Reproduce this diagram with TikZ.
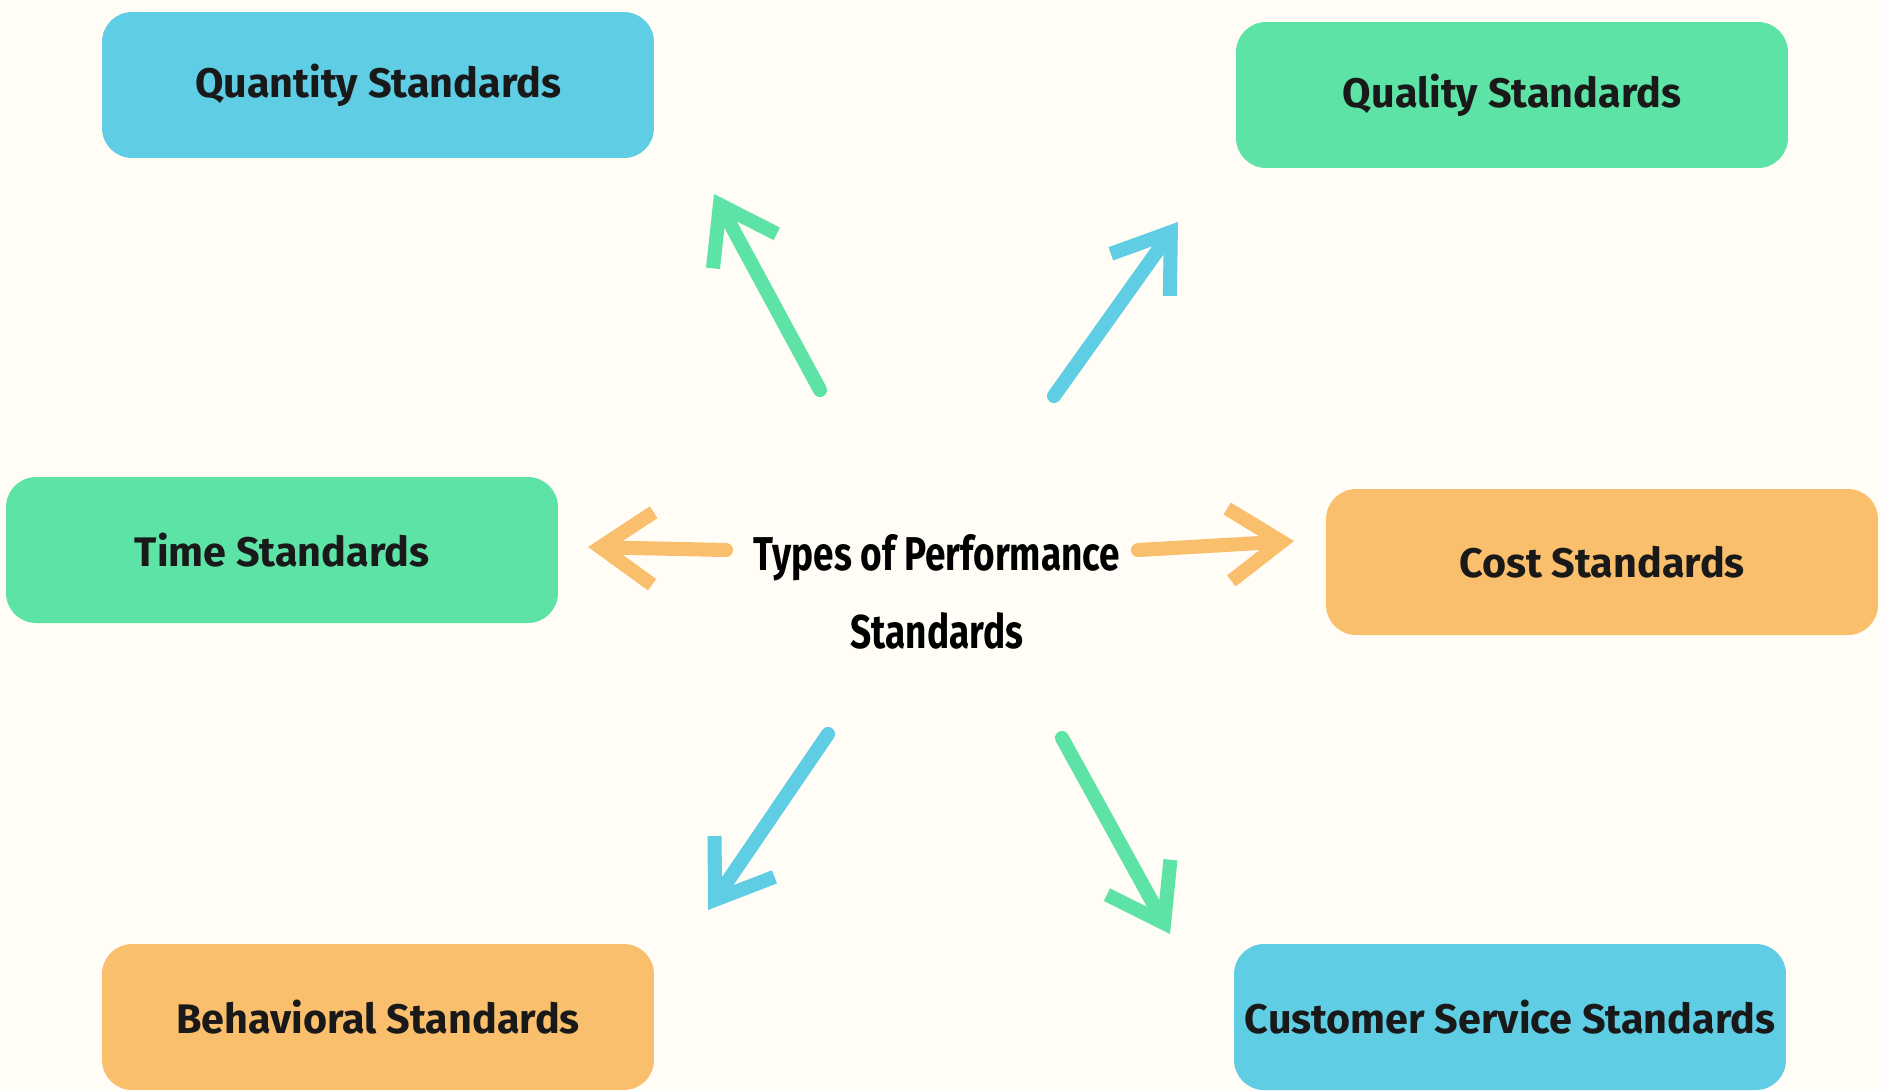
\documentclass[tikz,border=0pt]{standalone}
\usepackage{fontspec}
\setmainfont{Fira Sans}
\usepackage{xcolor}
\usepackage{tikz}
\usetikzlibrary{arrows.meta, positioning}

\definecolor{boxblue}{HTML}{5FCDE4}
\definecolor{boxgreen}{HTML}{5EE3A6}
\definecolor{boxorange}{HTML}{F9BF6C}
\definecolor{paper}{HTML}{FFFDF6}

\begin{document}
\begin{tikzpicture}[
          x=0.02cm, y=-0.02cm,
          stdbox/.style={rounded corners=0.6cm, minimum width=11.04cm, minimum height=2.92cm,
            font=\fontsize{23.5}{28}\selectfont\bfseries, text=black!90},
          link/.style={line width=8pt, line cap=round, line join=round,
            -{Straight Barb[length=1.05cm, width=1.45cm, line width=8pt]}}
        ]
          \fill[paper] (0,0) rectangle (1882,1090);
          \useasboundingbox (0,0) rectangle (1882,1090);
          \node[stdbox, fill=boxblue] (quantity) at (378,85) {Quantity Standards};
          \node[stdbox, fill=boxgreen] (quality) at (1512,95) {Quality Standards};
          \node[stdbox, fill=boxgreen] (time) at (282,550) {Time Standards};
          \node[stdbox, fill=boxorange] (cost) at (1602,562) {Cost Standards};
          \node[stdbox, fill=boxorange] (behav) at (378,1017) {Behavioral Standards};
          \node[stdbox, fill=boxblue] (customer) at (1510,1017) {Customer Service Standards};
          \node[align=center, font=\fontsize{27}{44}\selectfont\bfseries] (types) at (937,592)
            {\scalebox{0.78}[1]{Types of Performance}\\\scalebox{0.78}[1]{Standards}};
          % arrow ends
          \coordinate (q1) at (820,390); \coordinate (q2) at (714,194);
          \coordinate (l1) at (1054,396); \coordinate (l2) at (1178,222);
          \coordinate (t1) at (726,550); \coordinate (t2) at (588,547);
          \coordinate (c1) at (1138,550); \coordinate (c2) at (1294,541);
          \coordinate (b1) at (828,734); \coordinate (b2) at (708,910);
          \coordinate (s1) at (1062,738); \coordinate (s2) at (1170,934);
          \draw[link, boxgreen] (q1) -- (q2);
          \draw[link, boxblue] (l1) -- (l2);
          \draw[link, boxorange] (t1) -- (t2);
          \draw[link, boxorange] (c1) -- (c2);
          \draw[link, boxblue] (b1) -- (b2);
          \draw[link, boxgreen] (s1) -- (s2);
        \end{tikzpicture}
\end{document}
